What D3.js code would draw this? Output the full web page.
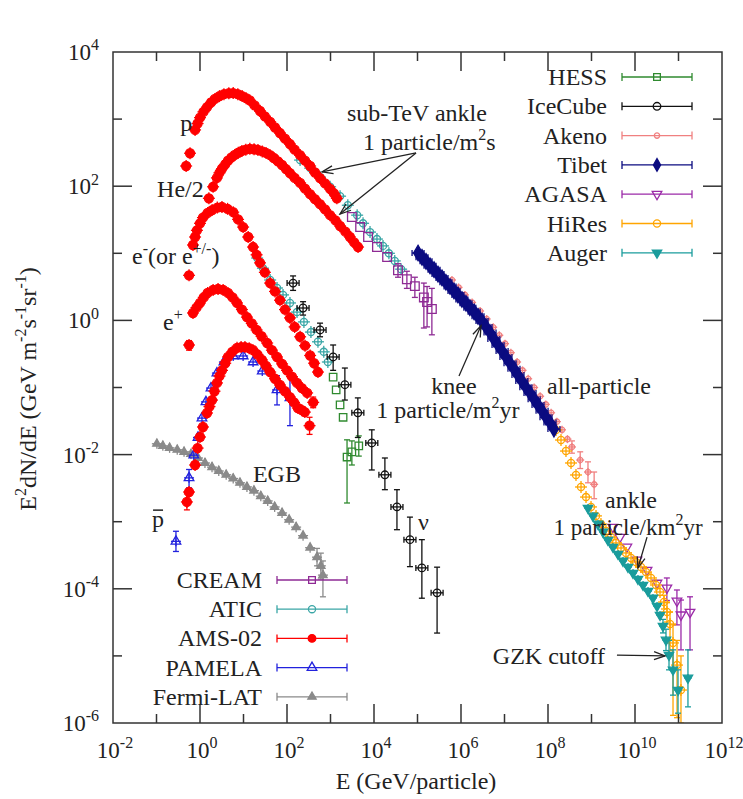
<!DOCTYPE html>
<html>
<head>
<meta charset="utf-8">
<script src="https://cdn.jsdelivr.net/npm/d3@7"></script>
<style>
  body { margin: 0; background: #fff; }
  svg { display: block; }
  svg text { fill: #222; font-family: "Liberation Serif", "DejaVu Serif", "Times New Roman", Times, serif; }
</style>
</head>
<body>
<div id="chart"></div>
<script>
// values: [E (GeV), E^2 dN/dE, errLo, errHi]
const amsProton = [[0.48,200],[0.59,310],[0.77,690],[0.88,860],[1.0,1050],[1.2,1280],[1.45,1510],[1.8,1780],[2.2,2000],[2.8,2200],[3.55,2350],[4.6,2430],[5.8,2440],[7.4,2350],[9.3,2200],[11.5,2050],[14,1900],[18,1600],[24,1320],[31,1100],[41,910],[53,750],[69,620],[90,510],[117,425],[150,350],[200,290],[260,240],[340,200],[440,160],[575,132],[750,110],[980,91],[1200,78],[1400,66]];
const amsHelium = [[1.6,66],[2.0,98],[2.45,133],[2.8,158],[3.2,182],[3.8,212],[4.4,240],[5.3,268],[6.3,292],[7.6,315],[9.2,335],[11.3,350],[14,360],[17.5,355],[21.5,347],[27,330],[33,313],[41,290],[50,263],[62,235],[77,207],[95,180],[117,157],[150,133],[200,112],[260,92],[340,76],[440,64],[575,54],[750,45],[980,37],[1300,31],[1660,25.5],[2200,21],[2800,17.5],[3500,14.5],[4300,12.4]];
const amsElectron = [[0.56,4.7],[0.69,13.3],[0.77,17.5],[0.85,22],[1.0,28],[1.17,34],[1.5,40],[1.9,44],[2.5,48],[3.2,49],[4.3,46],[5.8,41],[7.5,32],[9.8,24.6],[12.8,17.5],[16.6,12.4],[20,9.5],[24,7.2],[31,5.2],[41,3.6],[53,2.7],[69,2.0],[90,1.45],[117,1.09],[150,0.8],[200,0.57],[260,0.42],[340,0.30],[420,0.23],[515,0.17]];
const amsPositron = [[0.56,0.43,0.36,0.5],[0.69,1.29],[0.83,1.55],[1.0,1.82],[1.22,2.2],[1.5,2.57],[2.0,2.85],[2.6,2.94],[3.4,2.85],[4.4,2.57],[5.6,2.2],[7.1,1.82],[9.2,1.45],[12,1.12],[15.5,0.9],[20,0.72],[26,0.58],[35,0.46],[45,0.36],[59,0.285],[77,0.225],[100,0.18],[130,0.145],[170,0.117],[220,0.098],[290,0.083],[400,0.060,0.05,0.072],[330,0.027,0.020,0.036]];
const amsAntiproton = [[0.5,0.00197,0.0015,0.0026],[0.56,0.00277],[0.77,0.0070],[0.88,0.0125],[1.0,0.0183],[1.17,0.0258],[1.45,0.0417],[1.65,0.052],[1.89,0.065],[2.15,0.088],[2.46,0.117],[2.8,0.148],[3.2,0.18],[3.8,0.23],[4.4,0.285],[5.5,0.34],[7.1,0.39],[8.8,0.40],[10.8,0.40],[13.5,0.385],[16.6,0.36],[21,0.31],[26.6,0.257],[33,0.21],[41,0.17],[53,0.135],[69,0.109],[90,0.088],[117,0.072],[145,0.06],[178,0.0495],[220,0.046],[257,0.043]];
const pamela = [[0.28,0.00051,0.00036,0.00072],[0.56,0.0045,0.0032,0.006],[0.72,0.0098],[0.90,0.018],[1.11,0.035],[1.37,0.061],[1.79,0.098],[2.45,0.164],[3.55,0.24],[5.8,0.295],[9.8,0.295],[16.6,0.24],[27,0.176],[59,0.092,0.055,0.15],[117,0.070,0.027,0.145]];
const fermiEGB = [[0.102,0.0145],[0.14,0.0135],[0.20,0.0126],[0.30,0.0118],[0.43,0.011],[0.62,0.0102],[0.90,0.0089],[1.30,0.0075],[1.89,0.0065],[2.7,0.0057],[4.0,0.0050],[5.8,0.0044],[8.3,0.0038],[12,0.0033],[17.4,0.0029],[25,0.0024],[36,0.00204],[52,0.00166],[77,0.00135],[112,0.00107],[162,0.00083],[234,0.00062],[340,0.00041],[490,0.000296,0.00022,0.0004],[600,0.00022,0.00014,0.00034],[670,0.00016,0.000076,0.00026]];
const aticNuclei = [[200,245],[340,186],[575,137],[980,98],[1660,71],[2500,52],[4100,37],[5600,28],[8100,20.7],[11700,16.3],[16100,12.9],[22000,10],[30000,7.7],[42000,5.8]];
const aticElectron = [[20.6,8.5],[28,6.0],[41,4.0],[59,3.04],[81,2.4],[117,1.82],[170,1.33],[245,0.95],[355,0.67],[515,0.48],[700,0.34],[870,0.24]];
const cream = [[3100,34.7],[4800,24.6],[7300,17.5],[11700,12.4],[20000,8.8],[35600,5.6,4.4,7.0],[57000,4.1,3.0,5.4],[87000,3.24,2.2,4.4],[140000,2.2,0.77,3.6],[166000,1.88,0.8,3.2],[214000,1.48,0.61,3.0]];
const hess = [[1150,0.143],[1350,0.092],[1660,0.055],[1950,0.036],[2400,0.0092,0.0019,0.0166],[3100,0.011,0.007,0.016],[4470,0.0135,0.0095,0.019]];
const iceCube = [[138,3.6,2.8,4.6],[234,1.53,1.2,1.9],[575,0.72,0.57,0.91],[1150,0.285,0.18,0.43],[2140,0.11,0.065,0.195],[4250,0.042,0.018,0.07],[8900,0.0149,0.0059,0.0234],[17800,0.005,0.003,0.0089],[33700,0.00166,0.00076,0.003],[67000,0.00054,0.000214,0.00117],[126000,0.000205,0.0000724,0.00054],[282000,0.0000871,0.0000219,0.00021]];
const tibet = [[1.03e5,10.1],[1.27e5,8.7],[1.57e5,7.6],[1.94e5,6.5],[2.4e5,5.7],[2.96e5,4.9],[3.66e5,4.3],[4.5e5,3.7],[5.6e5,3.2],[6.9e5,2.75],[8.5e5,2.4],[1.05e6,2.05],[1.3e6,1.8],[1.6e6,1.55],[2.0e6,1.34],[2.46e6,1.15],[3.04e6,0.98],[3.76e6,0.80],[4.65e6,0.66],[5.7e6,0.53],[7.1e6,0.43],[8.8e6,0.35],[1.08e7,0.285],[1.34e7,0.23],[1.65e7,0.19],[2.04e7,0.153],[2.5e7,0.125],[3.1e7,0.101],[3.86e7,0.083],[4.8e7,0.067],[5.9e7,0.055],[7.3e7,0.045],[9.0e7,0.036],[1.11e8,0.030],[1.37e8,0.024]];
const akeno = [[6.2e5,4.0],[8.8e5,3.1],[1.23e6,2.4],[1.8e6,1.85],[2.75e6,1.38],[3.9e6,1.05],[5.5e6,0.79],[7.6e6,0.6],[1.03e7,0.45],[1.4e7,0.33],[1.95e7,0.24],[2.6e7,0.18],[3.5e7,0.135],[4.8e7,0.1],[6.6e7,0.074],[8.9e7,0.056],[1.18e8,0.042],[1.6e8,0.031],[2.1e8,0.0234],[2.8e8,0.017],[3.55e8,0.013,0.0105,0.016],[5.5e8,0.0083,0.0062,0.011],[8.3e8,0.0055,0.0038,0.0078],[1.15e9,0.0036,0.0022,0.0055]];
const hires = [[1.53e8,0.0233],[1.99e8,0.0165],[2.59e8,0.0113],[3.38e8,0.0075],[4.4e8,0.00497],[5.74e8,0.00329],[7.48e8,0.00233],[9.75e8,0.00166],[1.27e9,0.00122],[1.65e9,0.000925],[2.15e9,0.000727],[2.8e9,0.000592],[3.66e9,0.000482],[4.77e9,0.000406],[6.2e9,0.000342],[8.1e9,0.000288],[1.05e10,0.000251],[1.37e10,0.000211],[1.79e10,0.000178],[2.33e10,0.000145],[3.04e10,0.000114],[3.76e10,0.0000896],[4.64e10,0.0000635,0.00005,0.00008],[5.44e10,0.0000451,0.000032,0.000062],[6.38e10,0.0000299,0.000012,0.000045],[7.48e10,0.0000156,0.0000013,0.000029],[9.25e10,0.0000073,0.0000012,0.000017],[1.14e11,0.0000031,0.000001,0.00001]];
const agasa = [[3.1e9,0.00083],[4.5e9,0.00059],[6.5e9,0.00042],[1.11e10,0.00027],[1.89e10,0.00019],[3.2e10,0.000122],[5.4e10,0.000103,0.000067,0.000145],[9.2e10,0.000066,0.000029,0.000096],[1.14e11,0.000041,0.0000123,0.000068],[1.84e11,0.000045,0.0000123,0.000076]];
const auger = [[8.3e8,0.0016],[1.08e9,0.00122],[1.41e9,0.000925],[1.84e9,0.000703],[2.39e9,0.000533],[3.12e9,0.00042],[4.07e9,0.00033],[5.3e9,0.00026],[6.9e9,0.000211],[9e9,0.000172],[1.17e10,0.00014],[1.53e10,0.000114],[1.99e10,0.0000927],[2.59e10,0.000073],[3.21e10,0.0000554],[3.76e10,0.0000407],[4.4e10,0.0000279,0.000022,0.000035],[5.16e10,0.0000173,0.000012,0.000025],[6.05e10,0.0000103,0.0000062,0.000017],[7.48e10,0.0000062,0.0000026,0.0000123],[9.75e10,0.0000031,0.0000014,0.0000062],[1.65e11,0.0000047,0.00000174,0.0000123]];

const xDecades = d3.range(-2, 13);
const yDecades = d3.range(-6, 5);

const width = 743, height = 799;
const serif = "'Liberation Serif', 'DejaVu Serif', 'Times New Roman', serif";
const svg = d3.select('#chart').append('svg').attr('width', width).attr('height', height);

const x = d3.scaleLog().domain([1e-2, 1e12]).range([113, 722]);
const y = d3.scaleLog().domain([1e-6, 1e4]).range([723, 52]);

svg.append('clipPath').attr('id', 'clip').append('rect')
  .attr('x', 113).attr('y', 52).attr('width', 609).attr('height', 671);

const plot = svg.append('g').attr('clip-path', 'url(#clip)');

const shapes = {
  circle: d3.symbolCircle, square: d3.symbolSquare, triangle: d3.symbolTriangle,
  diamond: d3.symbolDiamond
};

function marker(g, px, py, s) {
  g.append('path')
    .attr('d', d3.symbol().type(shapes[s.shape]).size(s.size)())
    .attr('transform', `translate(${px},${py})` + (s.down ? ' rotate(180)' : ''))
    .attr('fill', s.filled ? s.color : 'none')
    .attr('stroke', s.color)
    .attr('stroke-width', 1.3);
}

function seg(g, x1, y1, x2, y2, color, w) {
  g.append('line').attr('x1', x1).attr('y1', y1).attr('x2', x2).attr('y2', y2)
    .attr('stroke', color).attr('stroke-width', w || 1.3);
}

function drawSeries(data, s) {
  const g = plot.append('g');
  data.forEach(function (d) {
    const px = x(d[0]), py = y(d[1]);
    if (d.length > 2) {
      seg(g, px, y(d[2]), px, y(d[3]), s.color);
      seg(g, px - 3, y(d[2]), px + 3, y(d[2]), s.color);
      seg(g, px - 3, y(d[3]), px + 3, y(d[3]), s.color);
    }
    if (s.cross) {
      seg(g, px, py - s.cross, px, py + s.cross, s.color);
      seg(g, px - s.cross, py, px + s.cross, py, s.color);
    }
    if (s.xbar) {
      seg(g, px - s.xbar, py, px + s.xbar, py, s.color);
      seg(g, px - s.xbar, py - 3, px - s.xbar, py + 3, s.color);
      seg(g, px + s.xbar, py - 3, px + s.xbar, py + 3, s.color);
    }
    marker(g, px, py, s);
  });
}

const st = {
  hess:    { color: '#2f8a2f', shape: 'square', size: 55 },
  iceCube: { color: '#111111', shape: 'circle', size: 45, xbar: 6 },
  akeno:   { color: '#f08080', shape: 'circle', size: 22, cross: 4 },
  tibet:   { color: '#0b0b80', shape: 'diamond', size: 70, filled: true, xbar: 6 },
  agasa:   { color: '#9b2aa8', shape: 'triangle', size: 40, down: true },
  hires:   { color: '#ffa500', shape: 'circle', size: 40, cross: 6 },
  auger:   { color: '#1a9c9c', shape: 'triangle', size: 38, down: true, filled: true, cross: 4 },
  cream:   { color: '#8e2a94', shape: 'square', size: 75 },
  atic:    { color: '#3aa6a6', shape: 'circle', size: 40, cross: 6 },
  ams:     { color: '#ff0000', shape: 'circle', size: 64, filled: true, cross: 6 },
  pamela:  { color: '#2222dd', shape: 'triangle', size: 40, cross: 5 },
  fermi:   { color: '#8a8a8a', shape: 'triangle', size: 30, filled: true, cross: 5 }
};

// back to front
drawSeries(fermiEGB, st.fermi);
drawSeries(pamela, st.pamela);
drawSeries(aticNuclei, st.atic);
drawSeries(aticElectron, st.atic);
drawSeries(cream, st.cream);
drawSeries(hess, st.hess);
drawSeries(amsAntiproton, st.ams);
drawSeries(amsPositron, st.ams);
drawSeries(amsElectron, st.ams);
drawSeries(amsHelium, st.ams);
drawSeries(amsProton, st.ams);
drawSeries(iceCube, st.iceCube);
drawSeries(akeno, st.akeno);
drawSeries(agasa, st.agasa);
drawSeries(hires, st.hires);
drawSeries(auger, st.auger);
drawSeries(tibet, st.tibet);

// frame and ticks
svg.append('rect').attr('x', 113).attr('y', 52).attr('width', 609).attr('height', 671)
  .attr('fill', 'none').attr('stroke', '#333').attr('stroke-width', 1.5);

const axes = svg.append('g').attr('stroke', '#333').attr('stroke-width', 1.5);
xDecades.forEach(function (k) {
  const px = x(Math.pow(10, k));
  const len = k % 2 === 0 ? 19 : 9;
  if (k > -2 && k < 12) {
    axes.append('line').attr('x1', px).attr('x2', px).attr('y1', 723).attr('y2', 723 - len);
    axes.append('line').attr('x1', px).attr('x2', px).attr('y1', 52).attr('y2', 52 + len);
  }
});
yDecades.forEach(function (k) {
  const py = y(Math.pow(10, k));
  const len = k % 2 === 0 ? 19 : 9;
  if (k > -6 && k < 4) {
    axes.append('line').attr('x1', 113).attr('x2', 113 + len).attr('y1', py).attr('y2', py);
    axes.append('line').attr('x1', 722).attr('x2', 722 - len).attr('y1', py).attr('y2', py);
  }
});

// text with superscripts: parts = [string, isSup]
function richText(sel, parts, size, supSize) {
  sel.style('font-family', serif);
  let up = false;
  parts.forEach(function (p) {
    const t = sel.append('tspan').text(p[0]);
    if (p[1] && !up) { t.attr('dy', -size * 0.42).attr('font-size', supSize); up = true; }
    else if (p[1]) { t.attr('font-size', supSize); }
    else if (up) { t.attr('dy', size * 0.42); up = false; }
  });
  return sel;
}

xDecades.filter(k => k % 2 === 0).forEach(function (k) {
  const t = svg.append('text').attr('x', x(Math.pow(10, k)) + 2).attr('y', 758)
    .attr('text-anchor', 'middle').attr('font-size', 23);
  richText(t, [['10'], [String(k), true]], 23, 16);
});
yDecades.filter(k => k % 2 === 0).forEach(function (k) {
  const t = svg.append('text').attr('x', 99).attr('y', y(Math.pow(10, k)) + 8)
    .attr('text-anchor', 'end').attr('font-size', 23);
  richText(t, [['10'], [String(k), true]], 23, 16);
});

const xl = svg.append('text').attr('x', 416).attr('y', 789).attr('text-anchor', 'middle')
  .attr('font-size', 24);
richText(xl, [['E (GeV/particle)']], 24, 16);
const yl = svg.append('text').attr('x', 0).attr('y', 0).attr('text-anchor', 'middle')
  .attr('font-size', 24).attr('transform', 'translate(36,389) rotate(-90)');
richText(yl, [['E'], ['2', true], ['dN/dE (GeV m'], ['-2', true], ['s'], ['-1', true], ['sr'], ['-1', true], [')']], 24, 16);

// legends
const legendTop = [
  ['HESS', st.hess], ['IceCube', st.iceCube], ['Akeno', st.akeno], ['Tibet', st.tibet],
  ['AGASA', st.agasa], ['HiRes', st.hires], ['Auger', st.auger]
];
const legendBottom = [
  ['CREAM', st.cream], ['ATIC', st.atic], ['AMS-02', st.ams], ['PAMELA', st.pamela], ['Fermi-LAT', st.fermi]
];
function legend(items, textRight, y0, step) {
  const g = svg.append('g');
  items.forEach(function (it, i) {
    const cy = y0 + i * step;
    const t = g.append('text').attr('x', textRight).attr('y', cy + 8).attr('text-anchor', 'end')
      .attr('font-size', 24);
    richText(t, [[it[0]]], 24, 16);
    const x1 = textRight + 15, x2 = textRight + 85, xm = (x1 + x2) / 2;
    seg(g, x1, cy, x2, cy, it[1].color);
    seg(g, x1, cy - 4, x1, cy + 4, it[1].color);
    seg(g, x2, cy - 4, x2, cy + 4, it[1].color);
    marker(g, xm, cy, Object.assign({}, it[1], { size: Math.min(it[1].size, 45) }));
  });
}
legend(legendTop, 607, 77, 29.3);
legend(legendBottom, 262, 580, 29.2);

// annotations
const ann = svg.append('g');
function label(E, F, parts, anchor, size) {
  const fs = size || 24;
  const t = ann.append('text').attr('x', x(E)).attr('y', y(F)).attr('font-size', fs)
    .attr('text-anchor', anchor || 'start');
  richText(t, parts, fs, 16);
  return t;
}
label(0.35, 665, [['p']]);
label(0.103, 69, [['He/2']]);
label(0.0273, 6.9, [['e'], ['-', true], ['(or e'], ['+/-', true], [')']]);
label(0.141, 0.72, [['e'], ['+', true]]);
label(0.079, 0.00083, [['p']]);
label(16.5, 0.0039, [['EGB']]);
label(1.03e5, 0.00076, [['ν']]);
label(2400, 933, [['sub-TeV ankle']]);
label(5580, 347, [['1 particle/m'], ['2', true], ['s']]);
label(6.9e5, 0.080, [['knee']], 'middle');
label(5.0e5, 0.035, [['1 particle/m'], ['2', true], ['yr']], 'middle');
label(9.5e7, 0.080, [['all-particle']]);
label(8.1e9, 0.00160, [['ankle']], 'middle');
label(6.9e9, 0.00064, [['1 particle/km'], ['2', true], ['yr']], 'middle', 23);
label(5.4e6, 7.6e-6, [['GZK cutoff']]);

// bar over the antiproton "p"
ann.append('line').attr('x1', x(0.079) + 1).attr('x2', x(0.079) + 11)
  .attr('y1', y(0.00083) - 17).attr('y2', y(0.00083) - 17)
  .attr('stroke', '#222').attr('stroke-width', 1.5);

svg.append('defs').append('marker').attr('id', 'head')
  .attr('viewBox', '-12 -6 14 12').attr('refX', 0).attr('refY', 0)
  .attr('markerWidth', 14).attr('markerHeight', 12).attr('markerUnits', 'userSpaceOnUse')
  .attr('orient', 'auto')
  .append('path').attr('d', 'M-11,-4 L0,0 L-11,4').attr('fill', 'none')
  .attr('stroke', '#222').attr('stroke-width', 1.3);

function arrow(E1, F1, E2, F2) {
  ann.append('line').attr('x1', x(E1)).attr('y1', y(F1)).attr('x2', x(E2)).attr('y2', y(F2))
    .attr('stroke', '#222').attr('stroke-width', 1.3).attr('marker-end', 'url(#head)');
}
arrow(92500, 313, 638, 163);
arrow(92500, 313, 1650, 38.5);
arrow(9.0e5, 0.148, 2.88e6, 0.83);
arrow(1.89e10, 0.00059, 1.17e10, 0.000204);
arrow(3.85e9, 1.03e-5, 4.9e10, 1.0e-5);
</script>
</body>
</html>
